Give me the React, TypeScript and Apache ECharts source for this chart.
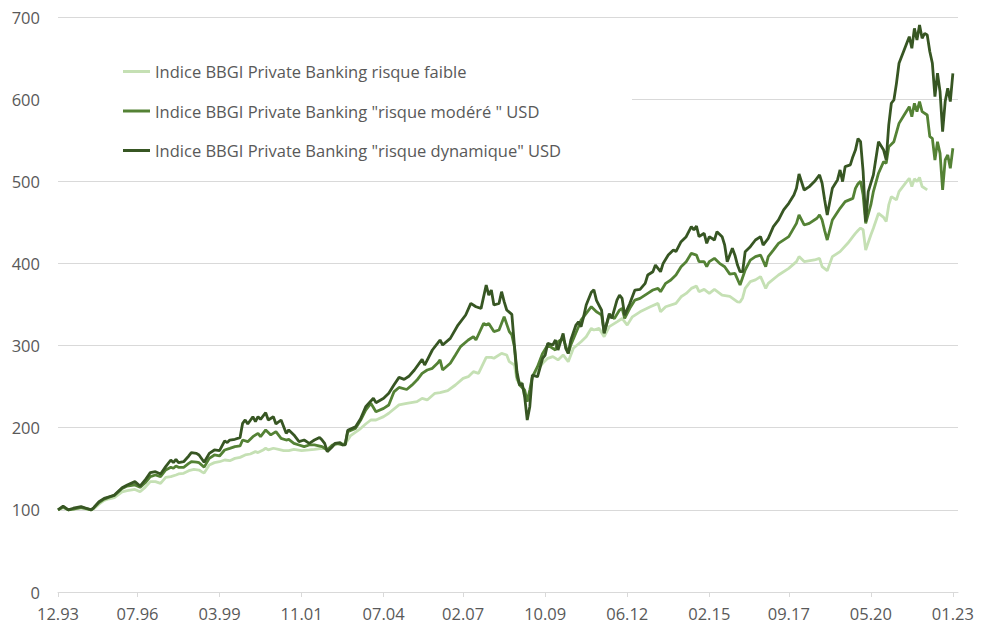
import React, { useEffect, useRef } from "react";
import * as echarts from "echarts";

// Monthly categories from 12.93 to 03.23 (last two months empty)
const firstYear = 1993;
const firstMonth = 12;
const monthCount = 352;
const categories: string[] = Array.from({ length: monthCount }, (_, i) => {
  const k = firstMonth - 1 + i;
  const m = (k % 12) + 1;
  const y = firstYear + Math.floor(k / 12);
  return `${String(m).padStart(2, "0")}.${String(y % 100).padStart(2, "0")}`;
});

const xTickLabels = ["12.93", "07.96", "03.99", "11.01", "07.04", "02.07", "10.09", "06.12", "02.15", "09.17", "05.20", "01.23"];
const yTicks = { min: 0, max: 700, step: 100 };

const seriesNames = [
  "Indice BBGI Private Banking risque faible",
  'Indice BBGI Private Banking "risque modéré " USD',
  'Indice BBGI Private Banking "risque dynamique" USD',
];

// [month index from 12.93, value]
const lowRisk: [number, number][] = [
  [0,100],[2,102.5],[4,100],[6,100.5],[9,102],[11,101],[13,100],[14,101.5],[16,107],[18,111.5],[20,113.5],[22,115],[25,122],[27,123.3],[30,124.9],[32,122.1],[34,127.4],[36,134.4],[38,134.4],[40,132.3],[42,139.6],[44,140.4],[46,142.4],[47,143.7],[49,144.5],[51,147.7],[53,149.3],[55,148.5],[56,146.5],[57,145],[59,154.6],[61,157.5],[63,158.6],[65,160.7],[67,159.9],[69,162.7],[71,163.9],[73,166.8],[75,168],[77,170.9],[78,169.7],[80,172.9],[81,175],[82,173],[84,175],[86,173.7],[88,172.1],[90,172.1],[92,173.7],[95,172.1],[98,172.9],[100,173.7],[103,175],[105,174],[108,179],[111,181],[112,180],[114,190],[118,199],[120,204.5],[122,209.4],[124,209.4],[127,213.5],[129,217.6],[133,227.7],[136,229.7],[140,231.7],[142,235.8],[144,233.8],[147,241.9],[149,242.7],[152,245.1],[155,252],[158,260.1],[160,262.1],[162,268.2],[164,266.2],[167,285.6],[169,285.6],[170,284.5],[173,290.5],[175,288.5],[176,280.4],[178,276.4],[179,258.1],[181,254],[182,238],[183,236],[184,241.6],[185,262],[187,270.3],[189,278.4],[191,284.5],[193,286.6],[195,282.5],[197,288.6],[199,280.4],[201,296.7],[204,304.7],[206,310.8],[208,321],[209,318.9],[211,321],[213,310.8],[215,323],[218,328.9],[220,333],[222,324.9],[224,335],[227,341.1],[231,347.3],[234,351.4],[235,341.1],[237,347.3],[241,351.4],[243,359.4],[245,363.5],[247,369.6],[249,372.4],[250,365.6],[252,368.4],[254,363.5],[256,368.4],[259,361.5],[262,360],[265,353.3],[266,353],[267,358],[268,369.6],[270,377.8],[272,379.9],[274,384],[276,369.6],[277,375.7],[281,385.9],[285,394],[288,402.2],[289,408.3],[291,402.2],[295,404.2],[297,406.2],[298,396],[300,391.2],[302,408.3],[305,414.4],[308,424.5],[310,432.6],[311,436.6],[312,440],[313,443],[314,441],[315,416.4],[317,434.6],[318,442.8],[320,461],[322,456],[323,451],[324,471.2],[325,481.4],[327,477.3],[328,487.5],[330,495.6],[332,503.7],[333,493.6],[334,503],[335,499.6],[336,504.6],[337,493.6],[339,489.5],
];

const moderateRisk: [number, number][] = [
  [0,100],[2,103.5],[4,100],[6,101],[9,103],[11,101.5],[13,100],[14,102.5],[16,109],[18,113],[20,115.5],[22,117.5],[25,126],[27,129],[30,130.3],[32,127.4],[34,133],[36,140.4],[38,142.4],[40,140.4],[42,148.5],[44,151.8],[45,150.6],[46,153.4],[47,151.8],[49,151.8],[51,156.6],[52,158.6],[54,158.2],[55,157.4],[57,152],[59,162.7],[61,166.8],[63,165.6],[65,172.9],[67,174.9],[69,177],[71,177.8],[72,185],[74,183],[76,189.1],[78,193.2],[79,189.1],[81,197.3],[83,191.2],[85,195.2],[87,187.1],[89,185],[90,185.9],[92,181],[94,179],[96,177],[98,179],[100,179],[103,177],[105,172.9],[107,179],[109,181],[111,179],[112,180],[113,195],[116,199],[118,209],[120,221.5],[122,229.7],[124,219.5],[127,223.5],[129,227.6],[131,243.6],[133,249],[136,246.5],[138,251.8],[140,258],[142,266.2],[144,270.3],[146,272.3],[148,278.4],[149,282.5],[150,270.3],[153,278.4],[155,288.5],[157,298.7],[160,306.8],[162,310.8],[163,306.8],[166,327],[167,325],[168,327],[170,317],[172,319],[174,335.2],[176,317],[177,313],[178,298.6],[179,262],[180,252],[182,245.9],[183,231.7],[184,245.9],[185,262],[187,274.3],[189,290.5],[191,300.6],[194,294.6],[195,304.7],[197,308.8],[199,290.5],[200,300.6],[203,322.9],[204,331],[206,339.2],[208,347.3],[210,341.1],[211,339.2],[212,337.2],[213,315.8],[215,337.2],[217,333],[219,343.2],[220,345.3],[221,333],[223,345.3],[225,355.4],[227,357.5],[230,363.6],[232,367.6],[234,369.7],[235,365.6],[237,375.8],[239,379.8],[241,385.9],[243,396],[245,402.1],[247,412.3],[249,410.2],[250,402.1],[252,402.1],[253,396],[254,402.1],[256,406.2],[258,400.1],[260,396],[262,387],[264,387.9],[266,373.8],[268,392],[270,404.1],[272,408.2],[274,410.2],[276,396],[277,408.2],[279,416.3],[281,424.5],[285,432.6],[288,448.8],[289,459],[291,446.8],[293,448.8],[296,455],[297,459],[298,452.9],[299,440],[300,428.5],[302,452.9],[305,467.1],[307,475.2],[310,479.2],[311,491.4],[312,497],[313,500],[314,483.3],[315,448.8],[317,471.2],[318,487.5],[320,509.8],[322,524],[323,522],[324,541.9],[326,548.2],[328,570.5],[330,580.7],[332,590.8],[333,578.6],[334,594.9],[335,584.8],[336,597],[337,584.8],[339,580.7],[340,554.3],[341,552.3],[342,525.9],[343,548.2],[344,534],[345,489.4],[346,525.9],[347,532],[348,515.8],[349,540.2],
];

const dynamicRisk: [number, number][] = [
  [0,100],[2,104.7],[4,100],[6,102],[9,104],[11,102],[13,100],[14,103],[16,110],[18,114],[20,116],[22,118],[25,127],[27,130.3],[30,134.4],[32,129],[34,136.4],[36,145.3],[38,146.5],[40,143.7],[42,152.6],[44,160.7],[45,157.5],[46,161.5],[47,157.5],[49,158.6],[51,165.6],[52,169.7],[54,168.8],[55,166.8],[57,158],[59,168.8],[61,172.9],[63,172],[65,183.9],[66,181.9],[67,185],[69,185.9],[71,188],[72,205.4],[73,209.5],[74,204.6],[76,213.4],[77,207.4],[78,213.4],[79,210.2],[81,218.3],[82,209.4],[84,213.4],[85,204.6],[87,209.4],[89,193.2],[90,197.3],[92,191.2],[94,183],[96,185],[98,181],[100,185],[102,188.2],[103,185],[104,181],[105,170.8],[107,176.9],[108,181],[110,181.8],[111,179],[112,179],[113,197],[116,201],[118,211],[120,225.6],[123,235.8],[124,230.5],[127,235.8],[129,241.9],[131,252],[133,261.3],[135,258.9],[137,263],[139,270.3],[142,283.2],[143,276.3],[146,294.6],[148,302.7],[149,306.8],[150,300.7],[153,308.8],[156,325],[159,337.2],[161,351.4],[163,347.3],[165,345.3],[167,373.7],[168,361.5],[169,367.6],[170,349.4],[172,351.4],[173,365.6],[174,353.4],[175,343.3],[177,338],[178,300],[179,268],[180,252],[181,254],[182,237.8],[183,209.3],[184,225.6],[185,264],[187,262],[189,284.5],[190,288.5],[191,302.7],[193,300.7],[194,306.8],[195,294.6],[197,314.8],[198,296.6],[199,290.5],[200,306.8],[202,325],[203,329],[204,322.9],[205,335.2],[206,349.4],[208,365],[209,368],[210,355],[212,343],[213,314.8],[215,339],[216,333],[218,355.2],[219,361.5],[220,357.5],[221,337],[223,351.2],[225,367.6],[227,368.4],[229,375.7],[230,385.9],[232,389.9],[233,398],[235,389.9],[236,400],[238,410.2],[240,416.4],[241,414.3],[243,426.5],[245,432.6],[247,444.8],[248,440.7],[249,445.6],[250,432.6],[252,436.7],[253,424.5],[254,432.6],[256,428.5],[257,438.7],[259,432.6],[260,422.4],[261,402.1],[263,418.4],[264,410],[265,398],[266,390],[267,389.9],[268,414.3],[270,420.4],[272,428.5],[274,432.6],[275,422.4],[277,430.5],[279,444.8],[281,452.9],[283,465.1],[285,473.2],[287,483.3],[288,491.4],[289,508.9],[291,489.4],[293,493.5],[295,499.6],[297,507.7],[298,497.6],[299,477.3],[300,459],[302,491.5],[304,501.6],[305,513.8],[306,499.6],[307,517.9],[309,519.9],[310,530],[311,538],[312,552],[313,548.2],[314,511.7],[315,450.9],[316,487.5],[318,507.8],[320,548.2],[322,538],[323,525.9],[324,568.6],[325,595],[326,599],[327,619.2],[328,643.7],[330,659.9],[332,676.1],[333,662],[334,686.2],[335,672],[336,690.3],[337,674],[338,680],[339,678.1],[340,658],[341,643.7],[342,603],[343,631.5],[344,609],[345,560.4],[346,597],[347,613.2],[348,597],[349,631.5],
];

const colors = ["#C5E0B4", "#548235", "#375623"];
const FONT = "'Open Sans', sans-serif";
const TEXT = "#595959";
const GRID = "#D9D9D9";

export default function App() {
  const ref = useRef<HTMLDivElement>(null);
  useEffect(() => {
    if (!ref.current) return;
    const chart = echarts.init(ref.current, null, { renderer: "svg" });
    const showLabel = (_i: number, v: string) => xTickLabels.includes(v);
    const dataSets = [lowRisk, moderateRisk, dynamicRisk];
    chart.setOption({
      animation: false,
      backgroundColor: "#ffffff",
      textStyle: { fontFamily: FONT },
      grid: { left: 58, right: 35, top: 17, bottom: 34, containLabel: false },
      legend: {
        orient: "vertical",
        left: 123,
        top: 63,
        padding: 0,
        itemGap: 22.5,
        itemWidth: 27,
        itemHeight: 3,
        icon: "rect",
        selectedMode: false,
        data: seriesNames,
        textStyle: { color: TEXT, fontSize: 16.5, fontFamily: FONT },
      },
      graphic: [
        {
          type: "rect",
          z: 1,
          shape: { x: 58, y: 90, width: 574, height: 20 },
          style: { fill: "#ffffff" },
          silent: true,
        },
      ],
      xAxis: {
        type: "category",
        data: categories,
        boundaryGap: false,
        axisLine: { show: true, lineStyle: { color: GRID, width: 1 } },
        axisTick: { show: true, length: 5, interval: showLabel, lineStyle: { color: GRID } },
        axisLabel: {
          interval: showLabel,
          color: TEXT,
          fontSize: 16.5,
          fontFamily: FONT,
          margin: 13,
        },
        splitLine: { show: false },
      },
      yAxis: {
        type: "value",
        min: yTicks.min,
        max: yTicks.max,
        interval: yTicks.step,
        axisLine: { show: false },
        axisTick: { show: false },
        axisLabel: { color: TEXT, fontSize: 16.5, fontFamily: FONT, margin: 18 },
        splitLine: { show: true, lineStyle: { color: GRID, width: 1 } },
      },
      series: seriesNames.map((name, i) => ({
        name,
        type: "line",
        symbol: "none",
        data: dataSets[i],
        color: colors[i],
        lineStyle: { color: colors[i], width: 2.8 },
        z: 2 + i,
      })),
    });
    return () => chart.dispose();
  }, []);
  return (
    <div
      ref={ref}
      style={{ position: "fixed", left: 0, top: 0, width: 993, height: 626, background: "#fff" }}
    />
  );
}
